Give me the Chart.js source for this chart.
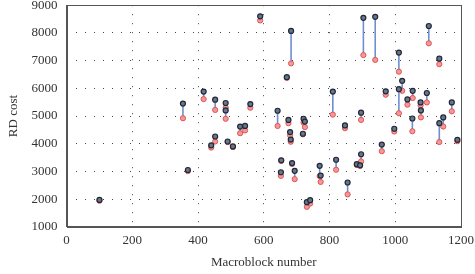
<!DOCTYPE html>
<html>
<head>
<meta charset="utf-8">
<script src="https://cdn.jsdelivr.net/npm/chart.js@4/dist/chart.umd.min.js"></script>
<style>
  html, body { margin: 0; padding: 0; background: #fff; }
  #wrap { width: 475px; height: 274px; }
</style>
</head>
<body>
<div id="wrap"><canvas id="rdChart"></canvas></div>
<script>
// macroblock index of each sample
const macroblocks = [100, 354, 369, 417, 440, 452, 452, 484, 484, 490, 506, 528, 543, 559, 589,
  642, 652, 653, 670, 675, 680, 682, 683, 686, 694, 719, 721, 725, 731, 741,
  770, 773, 810, 820, 847, 855, 883, 893, 896, 896, 903, 939, 959, 971, 997,
  1011, 1011, 1021, 1037, 1053, 1052, 1077, 1078, 1096, 1102, 1134, 1134, 1146, 1172, 1189];
// RD cost, upper (dark markers)
const costHigh = [1970, 5450, 3050, 5880, 3940, 5590, 4260, 5470, 5200, 4080, 3900, 4620, 4640, 5430, 8600,
  5190, 2970, 3400, 6400, 4860, 4420, 4150, 8070, 3300, 3020, 4360, 4900, 4800, 1890, 1960,
  3200, 2850, 5880, 3420, 4660, 2600, 3260, 3220, 3620, 5120, 8545, 8580, 3970, 5890, 4540,
  7290, 5970, 6270, 5600, 5910, 4910, 5490, 5200, 5830, 8250, 7070, 4740, 4950, 5490, 4140];
// RD cost, lower (red markers)
const costLow = [1940, 4920, 3010, 5610, 3860, 5220, 4080, 5300, 4900, 4060, 3880, 4380, 4480, 5300, 8450,
  4640, 2840, 3380, 6380, 4740, 4300, 4070, 6900, 3270, 2720, 4340, 4760, 4600, 1720, 1840,
  2830, 2620, 5050, 3060, 4560, 2170, 3230, 3200, 3360, 4860, 7200, 7025, 3730, 5770, 4440,
  6600, 5100, 5910, 5410, 5650, 4450, 5380, 4950, 5490, 7625, 6870, 4060, 4620, 5170, 4090];

const xTicks = [0, 200, 400, 600, 800, 1000, 1200];
const yTicks = [1000, 2000, 3000, 4000, 5000, 6000, 7000, 8000, 9000];

// vertical segments: hi -> lo, then a gap
const segments = [];
macroblocks.forEach((m, i) => {
  segments.push({ x: m, y: costHigh[i] });
  segments.push({ x: m, y: costLow[i] });
  segments.push({ x: m, y: null });
});

const serif = "'Liberation Serif', 'DejaVu Serif', serif";

// box round the plot area
const frame = {
  id: "frame",
  afterDraw(chart) {
    const { ctx, chartArea: a } = chart;
    ctx.save();
    ctx.strokeStyle = "#555";
    ctx.lineWidth = 1;
    ctx.strokeRect(Math.round(a.left) + 0.5, Math.round(a.top) + 0.5,
      Math.round(a.right - a.left), Math.round(a.bottom - a.top));
    ctx.restore();
  }
};

const noEdgePad = (scale) => {
  scale.paddingLeft = 0;
  scale.paddingRight = 0;
  scale.paddingTop = 0;
  scale.paddingBottom = 0;
};

const plain = (v) => String(v);

new Chart(document.getElementById("rdChart"), {
  type: "scatter",
  data: {
    datasets: [
      {
        label: "segments",
        data: segments,
        showLine: true,
        spanGaps: false,
        borderColor: "#6e8fcf",
        borderWidth: 1.6,
        pointRadius: 0,
        order: 3
      },
      {
        label: "low",
        data: macroblocks.map((m, i) => ({ x: m, y: costLow[i] })),
        backgroundColor: "rgba(242, 150, 150, 0.95)",
        borderColor: "#e05454",
        borderWidth: 1,
        pointRadius: 2.6,
        order: 2
      },
      {
        label: "high",
        data: macroblocks.map((m, i) => ({ x: m, y: costHigh[i] })),
        backgroundColor: "#6a7688",
        borderColor: "#1f2838",
        borderWidth: 1.2,
        pointRadius: 2.5,
        order: 1
      }
    ]
  },
  options: {
    responsive: true,
    maintainAspectRatio: false,
    animation: false,
    layout: { padding: { left: 6, right: 14, top: 4, bottom: 4 } },
    plugins: { legend: { display: false }, tooltip: { enabled: false } },
    scales: {
      x: {
        type: "linear",
        min: 0,
        max: 1200,
        afterFit: noEdgePad,
        afterBuildTicks: (s) => { s.ticks = xTicks.map(v => ({ value: v })); },
        ticks: { color: "#333", font: { family: serif, size: 13 }, padding: 6, callback: plain },
        grid: { color: "#444", lineWidth: 1, drawTicks: false },
        border: { display: true, color: "#555", dash: [1, 8] },
        title: {
          display: true,
          text: "Macroblock number",
          color: "#333",
          font: { family: serif, size: 13 },
          padding: { top: 0, bottom: 0 }
        }
      },
      y: {
        type: "linear",
        min: 1000,
        max: 9000,
        afterFit: noEdgePad,
        afterBuildTicks: (s) => { s.ticks = yTicks.map(v => ({ value: v })); },
        ticks: { color: "#333", font: { family: serif, size: 13 }, padding: 9, callback: plain },
        grid: { color: "#444", lineWidth: 1, drawTicks: false },
        border: { display: true, color: "#555", dash: [1, 8] },
        title: {
          display: true,
          text: "RD cost",
          color: "#333",
          font: { family: serif, size: 13 },
          padding: { top: 0, bottom: 1 }
        }
      }
    }
  },
  plugins: [frame]
});
</script>
</body>
</html>
